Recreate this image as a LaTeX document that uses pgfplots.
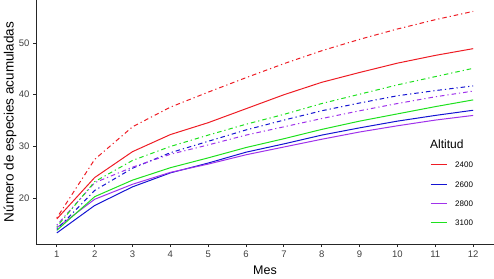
\documentclass[border=0pt]{standalone}
\usepackage{fontspec}
\setmainfont{Liberation Sans}
\usepackage{pgfplots}
\pgfplotsset{compat=1.18}
\definecolor{cred}{RGB}{238,28,36}
\definecolor{cblue}{RGB}{20,20,210}
\definecolor{cpurple}{RGB}{160,50,235}
\definecolor{cgreen}{RGB}{30,225,30}
\begin{document}
\begin{tikzpicture}
\path[use as bounding box] (-36pt,-34pt) rectangle (458pt,244pt);
\begin{axis}[
  at={(0,0)}, anchor=south west,
  scale only axis, width=458pt, height=244pt,
  xmin=0.45, xmax=12.55, ymin=11.16, ymax=58.3,
  axis x line=bottom, axis y line=left,
  axis line style={-, line width=0.9pt, black!85},
  xtick={1,...,12}, ytick={20,30,40,50},
  tick align=outside, major tick length=3pt,
  tick style={black!85, line width=0.9pt},
  ticklabel style={font=\fontsize{9.5}{11}\selectfont, text=black!75},
  /pgf/number format/assume math mode=true,
  xlabel={Mes}, ylabel={Número de especies acumuladas},
  every axis x label/.style={at={(axis description cs:0.5,-0.1066)}, anchor=center, font=\fontsize{12.5}{14}\selectfont},
  every axis y label/.style={at={(axis description cs:-0.0568,0.5)}, rotate=90, anchor=center, font=\fontsize{13.5}{15}\selectfont},
]
\addplot[draw=cred, line width=1pt] coordinates {(1,16.0)(2,24.0)(3,29.0)(4,32.3)(5,34.6)(6,37.3)(7,40.0)(8,42.4)(9,44.3)(10,46.1)(11,47.6)(12,48.9)};
\addplot[draw=cblue, line width=1pt] coordinates {(1,13.3)(2,18.6)(3,22.2)(4,24.9)(5,26.8)(6,28.9)(7,30.5)(8,32.2)(9,33.6)(10,34.9)(11,36.0)(12,37.0)};
\addplot[draw=cpurple, line width=1pt] coordinates {(1,14.3)(2,19.8)(3,22.7)(4,25.0)(5,26.6)(6,28.4)(7,29.9)(8,31.4)(9,32.8)(10,34.0)(11,35.1)(12,36.0)};
\addplot[draw=cgreen, line width=1pt] coordinates {(1,13.8)(2,20.3)(3,23.5)(4,25.9)(5,27.8)(6,29.8)(7,31.5)(8,33.3)(9,34.9)(10,36.3)(11,37.7)(12,39.0)};
\addplot[draw=cred, line width=1pt, dash pattern=on 1.2pt off 3pt on 4.5pt off 3pt] coordinates {(1,16.2)(2,27.5)(3,33.8)(4,37.6)(5,40.5)(6,43.3)(7,46.0)(8,48.5)(9,50.7)(10,52.7)(11,54.5)(12,56.1)};
\addplot[draw=cblue, line width=1pt, dash pattern=on 1.2pt off 3pt on 4.5pt off 3pt] coordinates {(1,14.0)(2,21.5)(3,25.8)(4,28.8)(5,31.0)(6,33.2)(7,35.1)(8,36.9)(9,38.4)(10,39.8)(11,40.8)(12,41.7)};
\addplot[draw=cpurple, line width=1pt, dash pattern=on 1.2pt off 3pt on 4.5pt off 3pt] coordinates {(1,14.8)(2,23.0)(3,26.0)(4,28.5)(5,30.3)(6,32.2)(7,33.8)(8,35.4)(9,36.9)(10,38.3)(11,39.6)(12,40.7)};
\addplot[draw=cgreen, line width=1pt, dash pattern=on 1.2pt off 3pt on 4.5pt off 3pt] coordinates {(1,14.5)(2,23.2)(3,27.3)(4,30.0)(5,32.2)(6,34.3)(7,36.2)(8,38.3)(9,40.1)(10,41.9)(11,43.5)(12,45.1)};
\end{axis}
% legend (Altitud)
\node[anchor=west, font=\fontsize{12}{14}\selectfont, inner sep=0pt] at (394pt,100pt) {Altitud};
\foreach \c/\lab/\yy in {cred/2400/79.7, cblue/2600/59.7, cpurple/2800/40.7, cgreen/3100/21.3}{
  \draw[\c, line width=1pt] (394.7pt,\yy pt) -- (411.3pt,\yy pt);
  \node[anchor=west, font=\fontsize{8}{9}\selectfont, inner sep=0pt] at (419pt,\yy pt) {\lab};
}
\end{tikzpicture}
\end{document}
